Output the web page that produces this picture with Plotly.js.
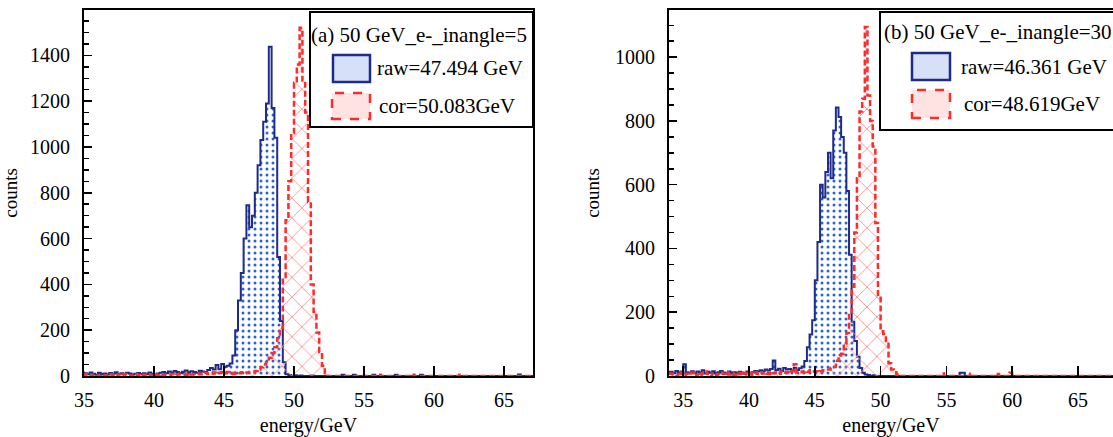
<!DOCTYPE html>
<html><head><meta charset="utf-8">
<script src="https://cdn.plot.ly/plotly-3.0.1.min.js"></script>
<style>html,body{margin:0;padding:0;background:#fff;}#chart{width:1113px;height:437px;}</style>
</head><body><div id="chart"></div>
<script>
// histogram binning (GeV): centre of first bin and bin width
const binStart = 33.1;
const binWidth = 0.2;

// (a) inangle = 5 : raw and corrected energy, one row per GeV (33 ... 67)
const rawA = [
  10,14,8,12,9,   11,7,13,10,15,  12,8,15,10,6,   14,9,11,7,13,
  10,16,8,12,9,   14,11,7,10,13,  9,12,8,15,10,   6,11,14,18,12,
  20,15,22,17,13, 19,24,16,21,18, 14,23,20,17,26, 35,28,48,30,52,
  40,45,55,90,200, 330,450,600,745,650, 700,800,920,1030,1110, 1190,1437,1170,1040,520,
  240,60,8,4,0,   3,0,2,0,0,      0,2,0,0,0,      0,0,0,0,0,
  0,0,5,0,0,      0,5,0,0,0,      0,0,0,5,0,      0,0,0,0,0,
  0,5,0,0,0,      0,0,0,0,0,      5,0,0,0,0,      0,0,0,0,0,
  0,0,0,0,0,      0,0,0,0,0,      0,0,0,0,0,      0,0,0,0,0,
  0,0,0,0,0,      7,0,0,0,0,      0,0,0,0,0
];
const corA = [
  5,0,8,3,0,      6,2,0,7,4,      9,3,0,5,2,      0,6,3,0,8,
  4,0,7,2,9,      5,3,0,8,4,      0,6,2,5,0,      7,3,8,4,6,
  5,9,4,7,10,     8,6,11,7,9,     12,8,10,14,9,   11,15,10,13,16,
  12,18,14,10,15, 12,16,12,15,18, 18,22,28,38,50, 60,80,100,125,165,
  210,420,680,850,1060, 1280,1360,1520,1290,1150, 760,400,280,190,105, 45,12,0,0,0,
  0,0,0,0,0,      0,0,0,0,0,      0,0,0,0,0,      5,0,0,0,0,
  0,0,0,0,0,      0,0,6,0,0,      0,0,0,0,0,      0,0,0,0,0,
  0,0,0,0,6,      0,0,0,0,0,      0,0,0,0,0,      0,0,0,0,0,
  0,0,0,0,0,      0,0,0,0,0,      0,0,0,0,0
];
// (b) inangle = 30
const rawB = [
  12,18,9,14,10,  13,9,16,11,14,  37,12,10,15,9,  14,11,18,8,13,
  10,15,9,12,16,  11,8,14,10,12,  9,13,11,7,14,   10,12,16,14,18,
  15,20,17,22,49, 18,23,16,25,20, 22,17,26,19,24, 30,47,90,130,175,
  300,420,600,560,640, 700,620,770,842,812, 750,700,580,380,170, 110,60,25,10,5,
  3,0,2,0,0,      0,0,0,0,0,      0,0,0,0,0,      0,0,0,0,0,
  0,0,0,0,0,      0,0,0,0,0,      0,0,0,0,0,      10,10,0,0,0,
  0,0,0,0,0,      0,0,0,0,0,      0,0,0,0,0,      0,0,0,0,0,
  0,0,0,0,0,      0,0,0,0,0,      0,0,0,0,0,      0,0,0,0,0,
  0,0,0,0,0,      0,0,0,0,0,      0,0,0,0,0
];
const corB = [
  4,0,6,0,3,      8,5,0,12,6,     0,7,4,10,0,     5,0,9,14,6,
  0,8,3,6,11,     7,12,5,9,4,     10,6,13,8,5,    9,4,11,7,12,
  8,10,6,13,9,    11,7,14,10,12,  9,15,37,11,14,  12,16,13,18,14,
  15,12,15,18,20, 20,25,28,48,60, 70,100,135,200,280, 450,620,830,870,1095,
  880,800,720,480,250, 140,132,110,40,20, 12,5,0,0,0, 0,0,0,0,0,
  0,0,0,0,0,      0,0,0,8,0,      0,0,0,0,0,      0,0,0,0,7,
  0,0,0,0,0,      0,0,0,0,6,      0,0,0,0,10,     0,0,0,0,0,
  0,0,0,0,0,      0,0,0,0,0,      0,0,0,0,0,      0,0,0,0,0,
  0,0,0,0,0,      0,0,0,0,0,      0,0,0,0,0
];

const legendTitles = ['(a) 50 GeV_e-_inangle=5', '(b) 50 GeV_e-_inangle=30'];
const legendRaw = ['raw=47.494 GeV', 'raw=46.361 GeV'];
const legendCor = ['cor=50.083GeV', 'cor=48.619GeV'];

const BLUE = '#1f2b88', BLUEDOT = '#2c62d8', RED = '#ff2a2a', PINK = '#ff8c8c';
const FONT = 'Liberation Serif';

function rawTrace(y, xa, ya, name) {
  return {type: 'scatter', mode: 'lines', x0: binStart, dx: binWidth, y: y,
    xaxis: xa, yaxis: ya, name: name, showlegend: false,
    line: {shape: 'hvh', color: BLUE, width: 2},
    fill: 'tozeroy', fillcolor: 'rgba(0,0,0,0)',
    fillpattern: {shape: '.', fgcolor: BLUEDOT, size: 6, solidity: 0.2}};
}
function corTrace(y, xa, ya, name) {
  return {type: 'scatter', mode: 'lines', x0: binStart, dx: binWidth, y: y,
    xaxis: xa, yaxis: ya, name: name, showlegend: false,
    line: {shape: 'hvh', color: RED, width: 2.5, dash: '6px,3px'},
    fill: 'tozeroy', fillcolor: 'rgba(0,0,0,0)',
    fillpattern: {shape: 'x', fgcolor: PINK, size: 14, solidity: 0.12}};
}

const data = [
  rawTrace(rawA, 'x', 'y', legendRaw[0]),
  corTrace(corA, 'x', 'y', legendCor[0]),
  rawTrace(rawB, 'x2', 'y2', legendRaw[1]),
  corTrace(corB, 'x2', 'y2', legendCor[1])
];

const W = 1113, TOP = 10, BOT = 376, PH = BOT - TOP;
const px = v => v / W;
const py = v => (BOT - v) / PH;

function xax(domain, range, mirror) {
  return {domain: domain, range: range, tick0: 0, dtick: 5, ticks: 'inside', ticklen: 10,
    tickwidth: 1.5, tickcolor: '#000', showline: true, linecolor: '#000', linewidth: 2,
    mirror: mirror, showgrid: false, zeroline: false, ticklabelstandoff: 5,
    tickfont: {family: FONT, size: 20, color: '#000'},
    title: {text: 'energy/GeV', font: {family: FONT, size: 20, color: '#000'}, standoff: 10}};
}
function yax(range, mirror, anchor) {
  return {range: range, domain: [0, 1], anchor: anchor, tick0: 0, dtick: 200, ticks: 'inside', ticklen: 8,
    tickwidth: 1.5, tickcolor: '#000', showline: true, linecolor: '#000', linewidth: 2,
    mirror: mirror, showgrid: false, zeroline: false, ticklabelstandoff: 8,
    minor: {dtick: 50, ticks: 'inside', ticklen: 5, tickwidth: 1.5, tickcolor: '#000', showgrid: false},
    tickfont: {family: FONT, size: 20, color: '#000'},
    title: {text: 'counts', font: {family: FONT, size: 19, color: '#000'}, standoff: 10}};
}

function legendBox(i, box, sw1, sw2, tPos, rPos, cPos) {
  const shapes = [
    {type: 'rect', xref: 'paper', yref: 'paper', x0: px(box[0]), x1: px(box[1]), y0: py(box[3]), y1: py(box[2]),
      line: {color: '#000', width: 2}, fillcolor: '#fff', layer: 'above'},
    {type: 'rect', xref: 'paper', yref: 'paper', x0: px(sw1[0]), x1: px(sw1[1]), y0: py(sw1[3]), y1: py(sw1[2]),
      line: {color: BLUE, width: 2.5}, fillcolor: '#d6e0f7', layer: 'above'},
    {type: 'rect', xref: 'paper', yref: 'paper', x0: px(sw2[0]), x1: px(sw2[1]), y0: py(sw2[3]), y1: py(sw2[2]),
      line: {color: RED, width: 2.5, dash: 'dash'}, fillcolor: '#ffe2e2', layer: 'above'}
  ];
  const f = {family: FONT, size: 21, color: '#000'};
  const ann = [
    {xref: 'paper', yref: 'paper', x: px(tPos[0]), y: py(tPos[1]), xanchor: 'left', yanchor: 'middle', text: legendTitles[i], showarrow: false, font: f},
    {xref: 'paper', yref: 'paper', x: px(rPos[0]), y: py(rPos[1]), xanchor: 'left', yanchor: 'middle', text: legendRaw[i], showarrow: false, font: f},
    {xref: 'paper', yref: 'paper', x: px(cPos[0]), y: py(cPos[1]), xanchor: 'left', yanchor: 'middle', text: legendCor[i], showarrow: false, font: f}
  ];
  return {shapes, ann};
}

const L1 = legendBox(0, [310, 533, 12, 127], [333, 370, 55, 82], [332, 370, 93, 119], [309, 35], [375, 68], [377, 106]);
const L2 = legendBox(1, [880, 1240, 12, 130], [912, 950, 53, 80], [912, 950, 90, 118], [882, 32], [959, 67], [962, 104]);

const layout = {
  width: 1113, height: 437,
  margin: {l: 0, r: 0, t: TOP, b: 437 - BOT, pad: 0},
  paper_bgcolor: '#fff', plot_bgcolor: '#fff',
  showlegend: false,
  font: {family: FONT, color: '#000'},
  xaxis: Object.assign(xax([px(84), px(533)], [35, 67.07], true), {anchor: 'y'}),
  yaxis: yax([0, 1598], true, 'x'),
  xaxis2: Object.assign(xax([px(669), 1], [33.92, 67.66], true), {anchor: 'y2'}),
  yaxis2: yax([0, 1148], false, 'x2'),
  shapes: L1.shapes.concat(L2.shapes),
  annotations: L1.ann.concat(L2.ann)
};

Plotly.newPlot('chart', data, layout, {displayModeBar: false, staticPlot: true});
</script>
</body></html>
